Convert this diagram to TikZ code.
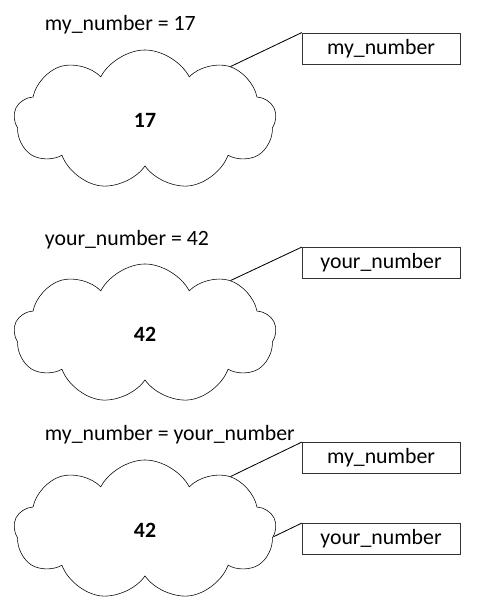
\documentclass[tikz,border=0pt]{standalone}
\usepackage{fontspec}
\setmainfont{Carlito}
\usetikzlibrary{shapes.symbols, positioning}

\begin{document}
\begin{tikzpicture}
    [
        x=0.025cm, y=-0.025cm,
        every node/.style={font=\fontsize{15.5}{18}\selectfont},
        blob/.style={cloud, draw, cloud puffs=9, cloud puff arc=125, aspect=1.85,
            minimum width=6.55cm, minimum height=3.5cm, inner sep=0pt, font=\fontsize{15.5}{18}\selectfont\bfseries},
        namebox/.style={rectangle, draw=black!80, minimum width=3.95cm, minimum height=0.78cm, inner sep=0pt},
        link/.style={draw, line width=0.6pt},
    ]
    \useasboundingbox (0,0) rectangle (480,609);

    % my_number = 17
    \node[anchor=west] (assign one) at (40,25) {my\_number = 17};
    \node[blob] (cloud one) at (145,120) {17};
    \node[namebox] (my box) at (381,48.5) {my\_number};
    \draw[link] (my box.north west) -- (cloud one.32);

    % your_number = 42
    \node[anchor=west] (assign two) at (40,240) {your\_number = 42};
    \node[blob] (cloud two) at (145,334) {42};
    \node[namebox] (your box) at (381,263) {your\_number};
    \draw[link] (your box.north west) -- (cloud two.32);

    % my_number = your_number
    \node[anchor=west] (assign three) at (40,435) {my\_number = your\_number};
    \node[blob] (cloud three) at (145,530) {42};
    \node[namebox] (my box two) at (381,458) {my\_number};
    \node[namebox] (your box two) at (381,539) {your\_number};
    \draw[link] (my box two.north west) -- (cloud three.32);
    \draw[link] (your box two.north west) -- (cloud three.-3);
\end{tikzpicture}
\end{document}
